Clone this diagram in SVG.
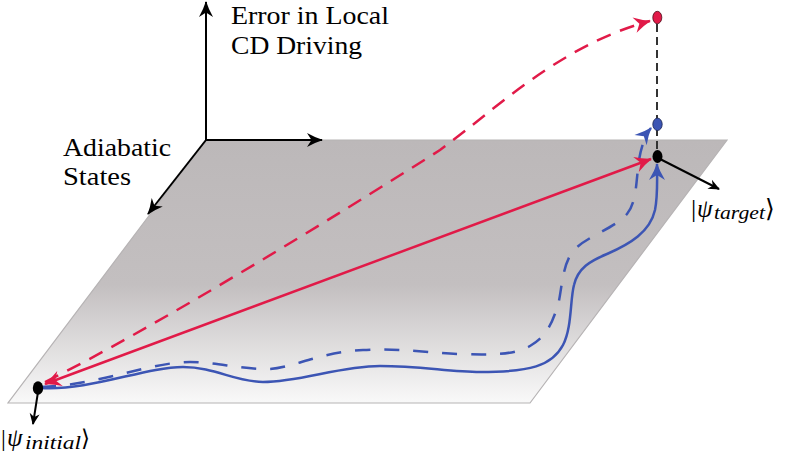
<svg xmlns="http://www.w3.org/2000/svg" width="789" height="461" viewBox="0 0 789 461">
<style>
.lbl{font-family:"Liberation Serif","DejaVu Serif",serif;font-size:25px;fill:#000}
.mi{font-family:"Liberation Serif","DejaVu Serif",serif;font-style:italic;fill:#000}
.bar{font-family:"Liberation Serif","DejaVu Serif",serif;fill:#000}
.br{font-family:"DejaVu Serif","Liberation Serif",serif;fill:#000}
.ax{stroke:#000;stroke-width:2;fill:none}
.red{stroke:#e11a48;stroke-width:2.5;fill:none}
.blue{stroke:#3c55b4;stroke-width:2.5;fill:none}
.rdash{stroke-dasharray:15 10}
.bdash{stroke-dasharray:15 14}
</style>
<defs>
<linearGradient id="pg" x1="0" y1="0" x2="0" y2="1">
<stop offset="0" stop-color="#bcb8b9"/>
<stop offset="0.55" stop-color="#c3bfc0"/>
<stop offset="1" stop-color="#f9f9f9"/>
</linearGradient>
<marker id="arrK" viewBox="-16 -8 17 16" markerWidth="17" markerHeight="16" refX="0" refY="0" orient="auto" markerUnits="userSpaceOnUse"><path d="M1,0 Q-7,-2.5 -15,-7 L-10.5,0 L-15,7 Q-7,2.5 1,0 Z" fill="#000"/></marker>
<marker id="arrKs" viewBox="-12 -6 13 12" markerWidth="13" markerHeight="12" refX="0" refY="0" orient="auto" markerUnits="userSpaceOnUse"><path d="M1,0 L-10.5,-5 L-7,0 L-10.5,5 Z" fill="#000"/></marker>
<marker id="arrR" viewBox="-17 -9 18 18" markerWidth="18" markerHeight="18" refX="0" refY="0" orient="auto-start-reverse" markerUnits="userSpaceOnUse"><path d="M1,0 Q-7,-2.5 -16,-8 L-11,0 L-16,8 Q-7,2.5 1,0 Z" fill="#e11a48"/></marker>
<marker id="arrB" viewBox="-17 -9 18 18" markerWidth="18" markerHeight="18" refX="0" refY="0" orient="auto" markerUnits="userSpaceOnUse"><path d="M1,0 Q-7,-2.5 -16,-8 L-11,0 L-16,8 Q-7,2.5 1,0 Z" fill="#3c55b4"/></marker>
</defs>

<g id="plane">
<polygon points="206,140 727,140 530,403 8,403" fill="url(#pg)" stroke="#b6b3b4" stroke-width="1.2"/>
</g>

<g id="axes">
<line class="ax" x1="206" y1="141" x2="206" y2="2" marker-end="url(#arrK)"/>
<line class="ax" x1="205" y1="140" x2="322" y2="140" marker-end="url(#arrK)"/>
<line class="ax" x1="206" y1="140" x2="148" y2="214" marker-end="url(#arrK)"/>
</g>

<g id="axis-labels">
<text class="lbl" x="231" y="24" textLength="158" lengthAdjust="spacingAndGlyphs">Error in Local</text>
<text class="lbl" x="231" y="54" textLength="131" lengthAdjust="spacingAndGlyphs">CD Driving</text>
<text class="lbl" x="63" y="156" textLength="108" lengthAdjust="spacingAndGlyphs">Adiabatic</text>
<text class="lbl" x="63" y="185" textLength="68" lengthAdjust="spacingAndGlyphs">States</text>
</g>

<g id="connectors">
<line x1="657" y1="24" x2="657" y2="151" stroke="#333" stroke-width="2" stroke-dasharray="8 5"/>
<path class="red rdash" d="M45,382 C150,330 330,220 440,150 C495,110 560,45 650,21" marker-end="url(#arrR)"/>
<path class="blue bdash" d="M41,387 C100,385 150,362 190,362 C215,362 240,369 267,369 C290,369 320,352 363,350 C400,348 430,353 460,354 C490,355 515,355 530,346 C548,336 553,320 558,305 C562,290 562,262 575,249 C588,236 615,228 627,214 C637,202 636,180 639,160 C641,148 645,135 651,128" marker-end="url(#arrB)"/>
<path class="blue" d="M41,388 C90,391 145,367 183,367 C215,367 235,382 263,382 C300,382 340,366 380,366 C420,366 450,372 480,372 C530,372 552,366 563,345 C572,328 570,300 574,285 C578,268 590,261 607,254 C630,244 650,232 655,210 C658,195 657,180 657,164" marker-end="url(#arrB)"/>
<line class="red" x1="45" y1="384" x2="651" y2="159" marker-start="url(#arrR)" marker-end="url(#arrR)"/>
<line class="ax" x1="38" y1="392" x2="33" y2="424" marker-end="url(#arrKs)"/>
<line class="ax" x1="660" y1="159" x2="719" y2="189" marker-end="url(#arrKs)"/>
</g>

<g id="node-initial">
<ellipse cx="38" cy="388" rx="5.2" ry="6.8" fill="#000"/>
<text x="1" y="446"><tspan class="bar" font-size="24">|</tspan><tspan class="mi" font-size="25" x="7">ψ</tspan><tspan class="mi" font-size="19" x="25" y="449" textLength="56" lengthAdjust="spacingAndGlyphs">initial</tspan><tspan class="br" font-size="23" x="81" y="446">⟩</tspan></text>
</g>

<g id="node-target">
<ellipse cx="657.5" cy="156.5" rx="5" ry="6.5" fill="#000"/>
<text x="691" y="217"><tspan class="bar" font-size="26">|</tspan><tspan class="mi" font-size="25" x="697">ψ</tspan><tspan class="mi" font-size="19" x="714" y="219" textLength="51" lengthAdjust="spacingAndGlyphs">target</tspan><tspan class="br" font-size="25" x="765" y="217">⟩</tspan></text>
</g>

<g id="node-blue">
<ellipse cx="657.5" cy="124.3" rx="4.7" ry="6.2" fill="#3c55b4" stroke="#1b2450" stroke-width="0.8"/>
</g>

<g id="node-red">
<ellipse cx="657.3" cy="17.5" rx="4.5" ry="6.2" fill="#e11a48" stroke="#4a0c18" stroke-width="0.8"/>
</g>
</svg>
